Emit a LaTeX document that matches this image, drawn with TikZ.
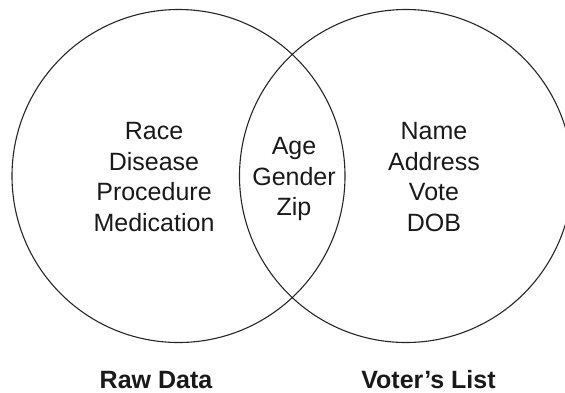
\documentclass[tikz,border=0pt]{standalone}
\usepackage{fontspec}
\setmainfont{Liberation Sans}
\begin{document}
\begin{tikzpicture}[x=1pt,y=-1pt,
  setring/.style={draw=black!85, line width=1.1pt, circle, minimum size=333pt, inner sep=0pt, outer sep=0pt},
  item/.style={anchor=base, inner sep=0pt, text=black!90, font=\fontsize{25}{30}\selectfont},
  setname/.style={anchor=base, inner sep=0pt, text=black!90, font=\fontsize{25}{30}\selectfont\bfseries}]
  \useasboundingbox (0,0) rectangle (565,392);
  \clip (0,0) rectangle (565,392);

  % the two sets
  \node[setring] (rawset) at (178.5,176) {};
  \node[setring] (voterset) at (406,176) {};

  % attributes only in the raw data
  \node[item] (race) at (154,139) {Race};
  \node[item] (disease) at (154,170) {Disease};
  \node[item] (procedure) at (154,200) {Procedure};
  \node[item] (medication) at (154,231) {Medication};

  % attributes shared by both
  \node[item] (age) at (294,154) {Age};
  \node[item] (gender) at (294,185) {Gender};
  \node[item] (zip) at (294,215) {Zip};

  % attributes only in the voter list
  \node[item] (name) at (434,139) {Name};
  \node[item] (address) at (434,170) {Address};
  \node[item] (vote) at (434,200) {Vote};
  \node[item] (dob) at (434,231) {DOB};

  % set captions
  \node[setname] (rawlabel) at (156,388) {Raw Data};
  \node[setname] (voterlabel) at (428.5,388) {Voter’s List};
\end{tikzpicture}
\end{document}
